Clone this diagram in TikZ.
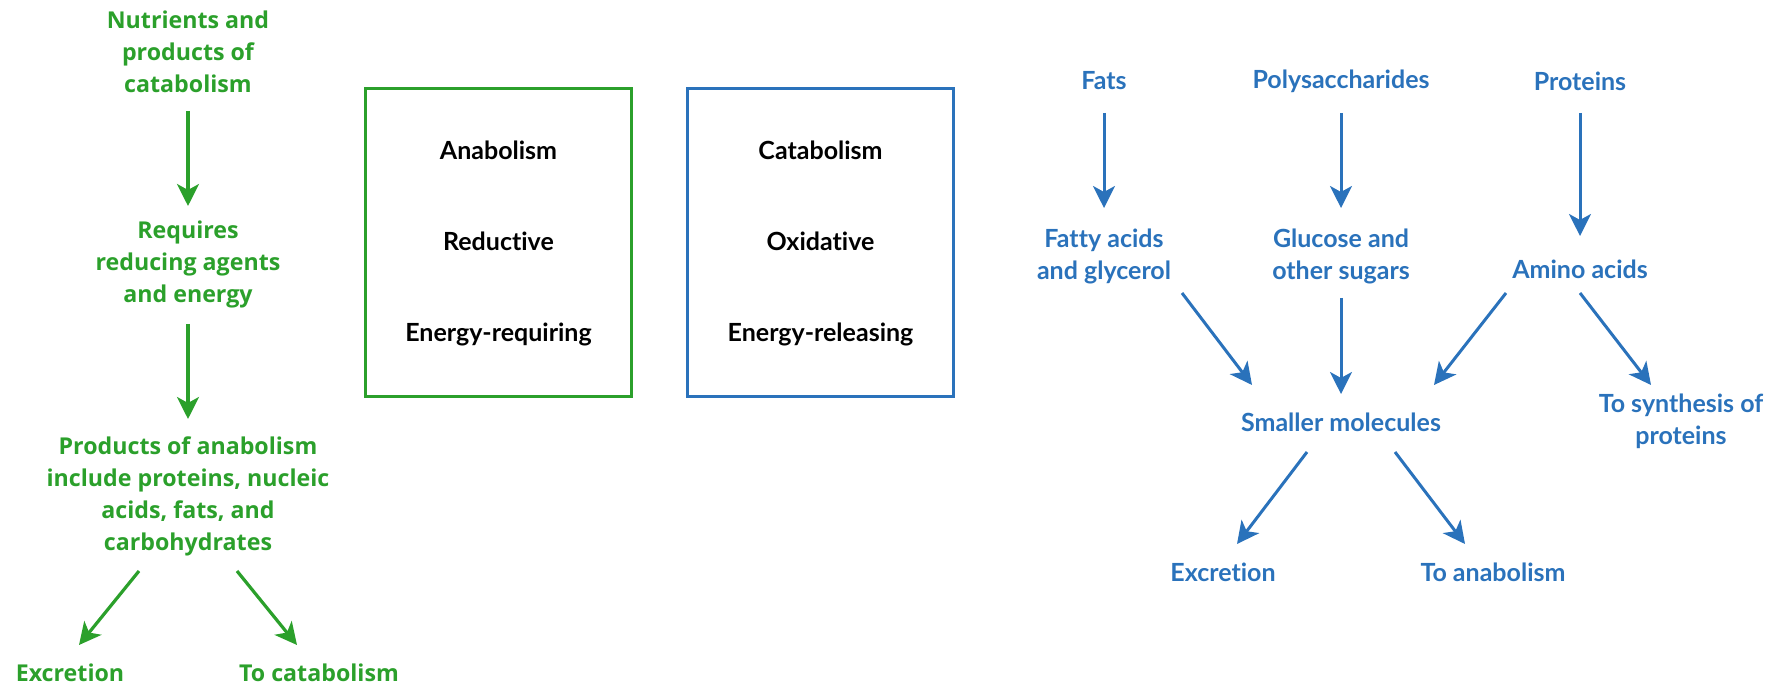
\documentclass[tikz,border=0pt]{standalone}
\usepackage{fontspec}
\setmainfont{Open Sans}
\newfontfamily\condfont[Ligatures=NoCommon]{Lato}
\usetikzlibrary{arrows.meta,positioning}
\definecolor{anagreen}{HTML}{2BA02B}
\definecolor{catblue}{HTML}{2A72BB}

\begin{document}
\begin{tikzpicture}[
  x=0.5pt, y=-0.5pt,
  gtext/.style={text=anagreen, font=\bfseries\fontsize{11.6pt}{16pt}\selectfont, align=center, inner sep=0pt},
  btext/.style={text=catblue, font=\condfont\bfseries\fontsize{12.5pt}{16pt}\selectfont, align=center, inner sep=0pt},
  pathbox/.style={draw, line width=1.5pt, minimum width=133pt, minimum height=154pt, inner sep=0pt,
    font=\condfont\bfseries\fontsize{12.5pt}{45.5pt}\selectfont, align=center},
  glink/.style={-{Stealth[length=11pt,width=11pt,inset=3pt]}, line width=1.6pt, anagreen},
  blink/.style={-{Stealth[length=11pt,width=11pt,inset=3pt]}, line width=1.5pt, catblue},
]
  \useasboundingbox (0,0) rectangle (1766,688);

  % anabolism column
  \node[gtext] (nutr) at (188,52) {Nutrients and\\products of\\catabolism};
  \node[gtext] (req) at (188,264) {Requires\\reducing agents\\and energy};
  \node[gtext] (prod) at (188,496) {Products of anabolism\\include proteins, nucleic\\acids, fats, and\\carbohydrates};
  \node[gtext] (excA) at (70,673) {Excretion};
  \node[gtext] (tocat) at (319,673) {To catabolism};

  % comparison boxes
  \node[pathbox, anagreen] (anabox) at (498.5,243) {\textcolor{black}{Anabolism}\\\textcolor{black}{Reductive}\\\textcolor{black}{Energy-requiring}};
  \node[pathbox, catblue, right=26.5pt of anabox] (catabox) {\textcolor{black}{Catabolism}\\\textcolor{black}{Oxidative}\\\textcolor{black}{Energy-releasing}};

  % catabolism network
  \node[btext] (fats) at (1104,81) {Fats};
  \node[btext] (poly) at (1341,81) {Polysaccharides};
  \node[btext] (prot) at (1580,81) {Proteins};
  \node[btext] (fatty) at (1104,256) {Fatty acids\\and glycerol};
  \node[btext] (gluc) at (1341,256) {Glucose and\\other sugars};
  \node[btext] (amino) at (1580,269) {Amino acids};
  \node[btext] (small) at (1341,422) {Smaller molecules};
  \node[btext] (synth) at (1681,421) {To synthesis of\\proteins};
  \node[btext] (excB) at (1223,572) {Excretion};
  \node[btext] (toana) at (1493,572) {To anabolism};

  \draw[glink] ([yshift=-29.5pt]nutr.center) -- ([yshift=29pt]req.center);
  \draw[glink] ([yshift=-30pt]req.center) -- ([yshift=38.5pt]prod.center);
  \draw[glink] ([xshift=-24.5pt,yshift=-37.5pt]prod.center) -- ([xshift=4.5pt,yshift=14pt]excA.center);
  \draw[glink] ([xshift=24.5pt,yshift=-37.5pt]prod.center) -- ([xshift=-11pt,yshift=14pt]tocat.center);

  \draw[blink] ([yshift=-16pt]fats.center) -- ([yshift=24pt]fatty.center);
  \draw[blink] ([yshift=-16pt]poly.center) -- ([yshift=24pt]gluc.center);
  \draw[blink] ([yshift=-16pt]prot.center) -- ([yshift=16.5pt]amino.center);
  \draw[blink] ([xshift=39pt,yshift=-18.5pt]fatty.center) -- ([xshift=-44.5pt,yshift=18.5pt]small.center);
  \draw[blink] ([yshift=-21pt]gluc.center) -- ([yshift=14pt]small.center);
  \draw[blink] ([xshift=-37pt,yshift=-12pt]amino.center) -- ([xshift=46.5pt,yshift=18.5pt]small.center);
  \draw[blink] ([yshift=-12pt]amino.center) -- ([xshift=-15pt,yshift=18pt]synth.center);
  \draw[blink] ([xshift=-17pt,yshift=-15pt]small.center) -- ([xshift=7pt,yshift=14pt]excB.center);
  \draw[blink] ([xshift=27pt,yshift=-15pt]small.center) -- ([xshift=-14pt,yshift=14pt]toana.center);
\end{tikzpicture}
\end{document}
